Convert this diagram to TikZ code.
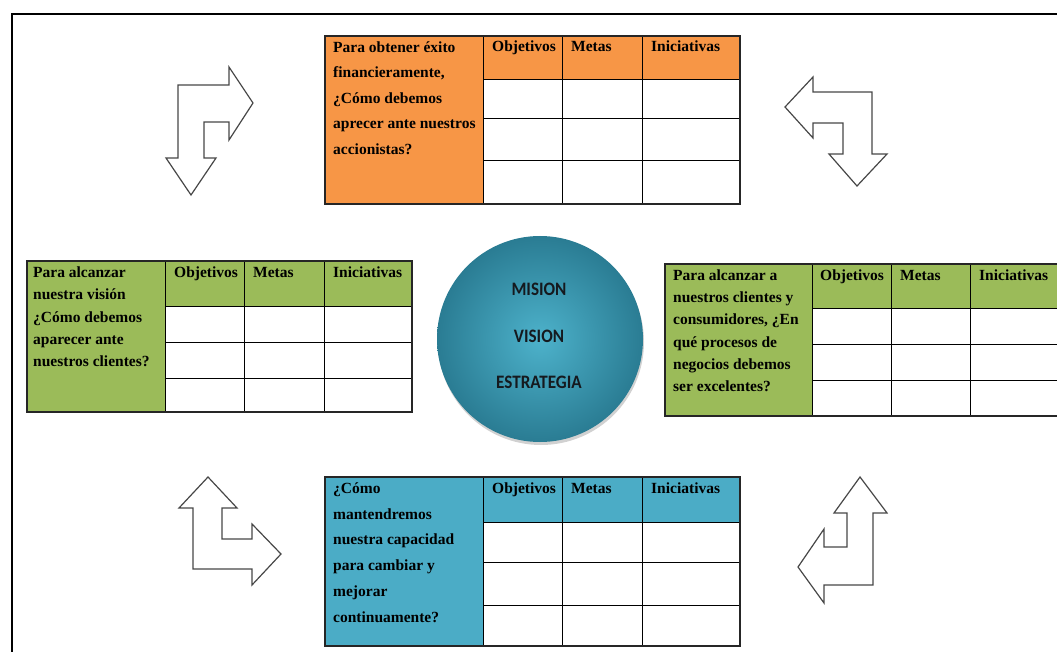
\documentclass[tikz,border=0pt]{standalone}
\usepackage{fontspec}
\setmainfont{Liberation Serif}
\newfontfamily\circfont{Carlito}
\definecolor{bscorange}{HTML}{F79646}
\definecolor{bscgreen}{HTML}{9BBB59}
\definecolor{bscblue}{HTML}{4BACC6}
\definecolor{tealin}{HTML}{4DB2CB}
\definecolor{tealout}{HTML}{2A7C93}
\definecolor{circtext}{HTML}{15191E}
\begin{document}
\begin{tikzpicture}[x=1pt,y=-1pt,
  outline/.style={draw=black!85, line width=1.4pt},
  gridline/.style={draw=black, line width=0.9pt},
  hdr/.style={anchor=base west, inner sep=0pt, font=\bfseries\fontsize{15.5}{18}\selectfont},
  question/.style={anchor=north west, inner sep=0pt, align=left},
  turnarrow/.style={draw=black!72, fill=white, line width=1.2pt, line join=miter},
  circlabel/.style={inner sep=0pt, text=circtext, xscale=0.9, font=\circfont\bfseries\fontsize{19}{22}\selectfont}
]
\useasboundingbox (0,0) rectangle (1057,652);
\begin{scope}
\clip (0,0) rectangle (1057,652);

% outer frame
\draw[black, line width=2.6pt] (12,660) -- (12,14) -- (1070,14);

% ---------- financial perspective (top) ----------
\fill[bscorange] (325,36) rectangle (483,204);
\fill[bscorange] (483,36) rectangle (740,79);
\fill[white] (483,79) rectangle (740,204);
\foreach \x in {483,562,642} \draw[gridline] (\x,36) -- (\x,204);
\foreach \y in {79,118,160} \draw[gridline] (483,\y) -- (740,\y);
\draw[outline] (325,36) rectangle (740,204);
\node[question, font=\bfseries\fontsize{15.5}{25.6}\selectfont] (qtop) at (333,34)
  {\strut Para obtener éxito\\ financieramente,\\ ¿Cómo debemos\\ aprecer ante nuestros\\ accionistas?};
\node[hdr] (top-obj) at (492,52) {Objetivos};
\node[hdr] (top-met) at (571,52) {Metas};
\node[hdr] (top-ini) at (651,52) {Iniciativas};

% ---------- customer perspective (left) ----------
\fill[bscgreen] (27,261) rectangle (165,412);
\fill[bscgreen] (165,261) rectangle (412,306);
\fill[white] (165,306) rectangle (412,412);
\foreach \x in {165,244,324} \draw[gridline] (\x,261) -- (\x,412);
\foreach \y in {306,342,378} \draw[gridline] (165,\y) -- (412,\y);
\draw[outline] (27,261) rectangle (412,412);
\node[question, font=\bfseries\fontsize{15.5}{22.4}\selectfont] (qleft) at (33,261.5)
  {\strut Para alcanzar\\ nuestra visión\\ ¿Cómo debemos\\ aparecer ante\\ nuestros clientes?};
\node[hdr] (left-obj) at (174,277) {Objetivos};
\node[hdr] (left-met) at (253,277) {Metas};
\node[hdr] (left-ini) at (333,277) {Iniciativas};

% ---------- internal process perspective (right) ----------
\fill[bscgreen] (665,264) rectangle (812,416);
\fill[bscgreen] (812,264) rectangle (1070,308);
\fill[white] (812,308) rectangle (1070,416);
\foreach \x in {812,891,970} \draw[gridline] (\x,264) -- (\x,416);
\foreach \y in {308,344,380} \draw[gridline] (812,\y) -- (1070,\y);
\draw[outline] (665,264) rectangle (1070,416);
\node[question, font=\bfseries\fontsize{15.5}{22.3}\selectfont] (qright) at (673,264.4)
  {\strut Para alcanzar a\\ nuestros clientes y\\ consumidores, ¿En\\ qué procesos de\\ negocios debemos\\ ser excelentes?};
\node[hdr] (right-obj) at (820,280) {Objetivos};
\node[hdr] (right-met) at (900,280) {Metas};
\node[hdr] (right-ini) at (979,280) {Iniciativas};

% ---------- learning and growth perspective (bottom) ----------
\fill[bscblue] (325,477) rectangle (483,646);
\fill[bscblue] (483,477) rectangle (740,522);
\fill[white] (483,522) rectangle (740,646);
\foreach \x in {483,562,642} \draw[gridline] (\x,477) -- (\x,646);
\foreach \y in {522,562,605} \draw[gridline] (483,\y) -- (740,\y);
\draw[outline] (325,477) rectangle (740,646);
\node[question, font=\bfseries\fontsize{15.5}{25.8}\selectfont] (qbottom) at (333,475)
  {\strut ¿Cómo\\ mantendremos\\ nuestra capacidad\\ para cambiar y\\ mejorar\\ continuamente?};
\node[hdr] (bot-obj) at (492,493) {Objetivos};
\node[hdr] (bot-met) at (571,493) {Metas};
\node[hdr] (bot-ini) at (651,493) {Iniciativas};

% ---------- central circle ----------
\fill[black!30, opacity=0.6] (541,342) circle [radius=103pt];
\shade[inner color=tealin, outer color=tealout] (540,339) circle [radius=103pt];
\node[circlabel] (mision) at (539,289) {MISION};
\node[circlabel] (vision) at (539,336) {VISION};
\node[circlabel] (estrategia) at (539,382) {ESTRATEGIA};

% ---------- turning arrows ----------
% top left: right and down
\draw[turnarrow] (178,85) -- (229,85) -- (229,67) -- (253,103) -- (229,140) -- (229,122)
  -- (204,122) -- (204,158) -- (216,158) -- (191,195) -- (166,158) -- (178,158) -- cycle;
% top right: left and down
\draw[turnarrow] (872,92) -- (813,92) -- (813,77) -- (785,107) -- (813,138) -- (813,123)
  -- (843,123) -- (843,154) -- (829,154) -- (857,186) -- (887,154) -- (872,154) -- cycle;
% bottom left: up and right
\draw[turnarrow] (208,477) -- (237,508) -- (222,508) -- (222,539) -- (252,539) -- (252,524)
  -- (281,554) -- (252,585) -- (252,569) -- (193,569) -- (193,508) -- (179,508) -- cycle;
% bottom right: up and left
\draw[turnarrow] (860,477) -- (887,513) -- (873,513) -- (873,585) -- (824,585) -- (824,603)
  -- (798,567) -- (824,529) -- (824,547) -- (847,547) -- (847,513) -- (834,513) -- cycle;
\end{scope}
\end{tikzpicture}
\end{document}
